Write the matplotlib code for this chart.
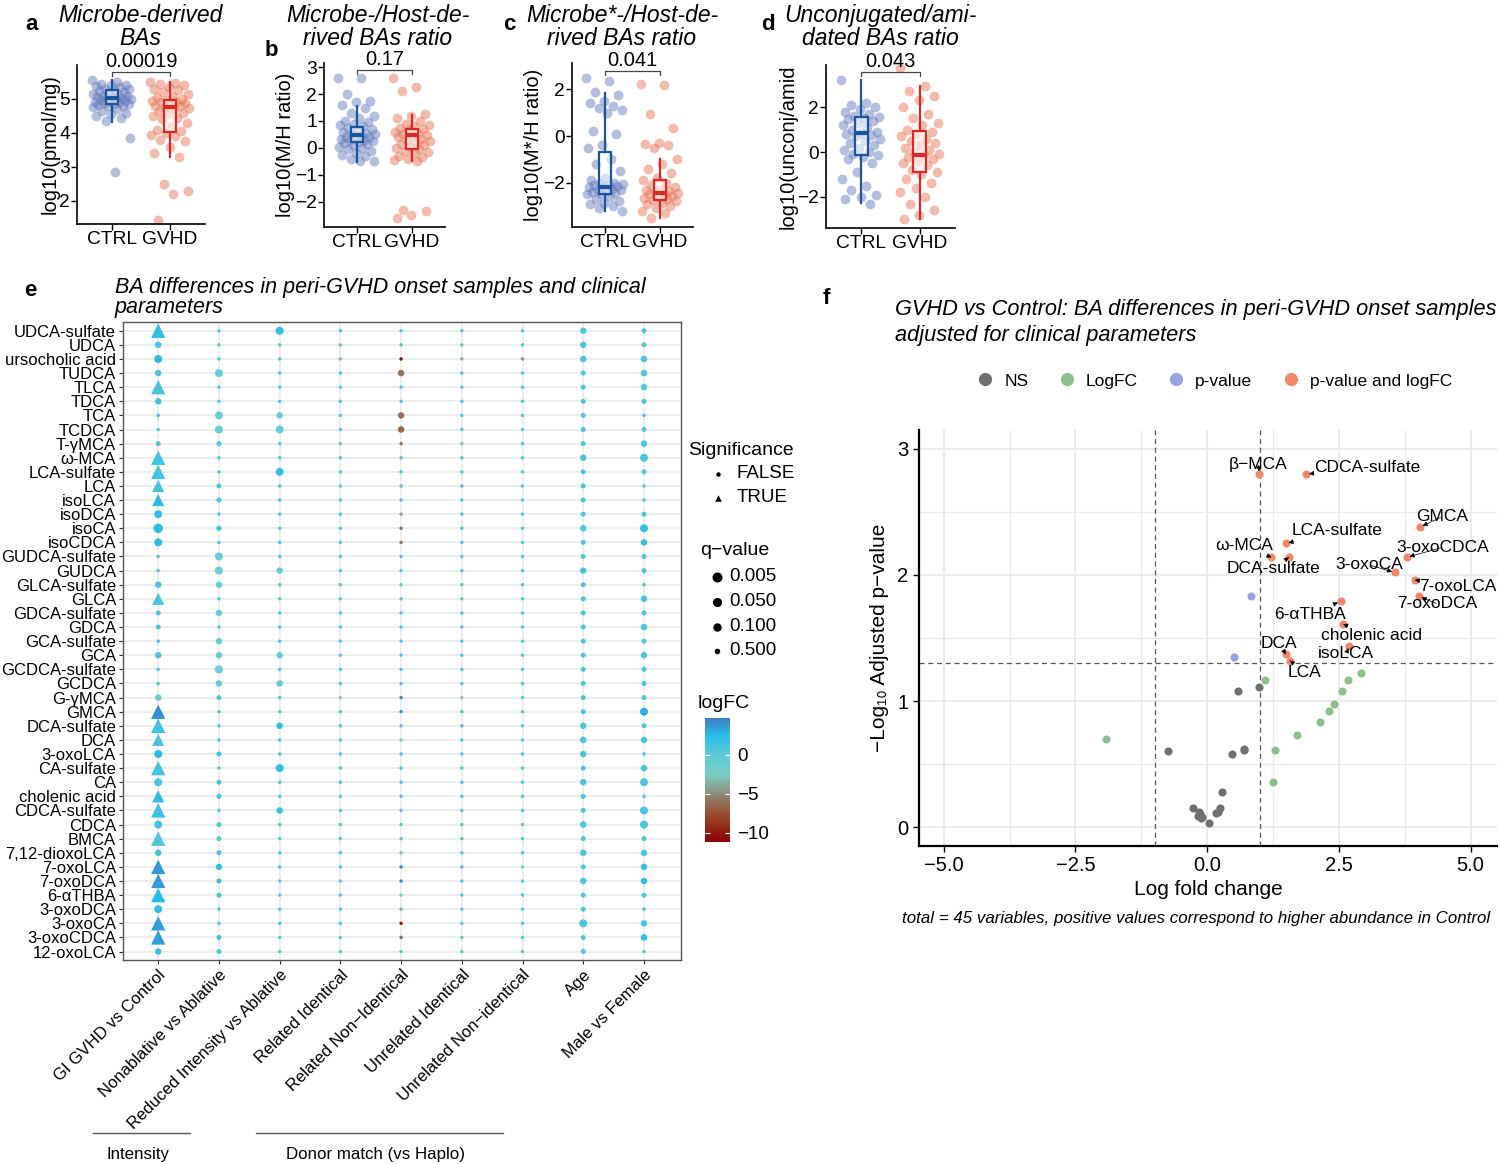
import numpy as np
import matplotlib
matplotlib.use('Agg')
import matplotlib.pyplot as plt
from matplotlib.colors import LinearSegmentedColormap, Normalize
from matplotlib.cm import ScalarMappable
from matplotlib.lines import Line2D

plt.rcParams['font.family'] = ['Liberation Sans', 'DejaVu Sans']

# ---------------- data: panels a-d ----------------
groups = ['CTRL', 'GVHD']

a_ctrl = [5.55, 5.5, 5.45, 5.42, 5.4, 5.38, 5.35, 5.3, 5.28, 5.25, 5.22, 5.2, 5.18, 5.15, 5.12, 5.1,
          5.08, 5.06, 5.05, 5.03, 5.02, 5.0, 4.99, 4.97, 4.95, 4.93, 4.92, 4.9, 4.88, 4.86, 4.85, 4.83,
          4.8, 4.78, 4.75, 4.7, 4.65, 4.6, 4.55, 4.5, 4.45, 4.35, 3.85, 2.85]
a_gvhd = [5.5, 5.48, 5.45, 5.4, 5.35, 5.3, 5.25, 5.2, 5.15, 5.1, 5.05, 5.0, 4.98, 4.95, 4.92, 4.9,
          4.88, 4.85, 4.8, 4.78, 4.75, 4.72, 4.7, 4.65, 4.6, 4.55, 4.5, 4.45, 4.4, 4.3, 4.2, 4.1,
          4.05, 4.0, 3.95, 3.9, 3.8, 3.75, 3.6, 3.4, 3.3, 2.5, 2.3, 2.2, 1.45]
b_ctrl = [2.6, 2.6, 2.0, 1.75, 1.7, 1.6, 1.5, 1.3, 1.2, 1.1, 1.0, 0.95, 0.9, 0.85, 0.8, 0.75, 0.7,
          0.65, 0.6, 0.55, 0.5, 0.5, 0.45, 0.42, 0.4, 0.38, 0.35, 0.3, 0.28, 0.25, 0.22, 0.2, 0.15,
          0.1, 0.05, 0.0, -0.05, -0.1, -0.2, -0.25, -0.3, -0.4, -0.5, -0.5]
b_gvhd = [2.6, 2.25, 2.1, 1.25, 1.2, 1.1, 1.0, 0.9, 0.85, 0.8, 0.75, 0.7, 0.65, 0.6, 0.55, 0.5,
          0.48, 0.45, 0.4, 0.35, 0.3, 0.25, 0.2, 0.15, 0.1, 0.05, 0.0, -0.05, -0.1, -0.15, -0.2,
          -0.3, -0.35, -0.4, -0.45, -0.5, -2.3, -2.35, -2.5, -2.6]
c_ctrl = [2.5, 2.35, 1.9, 1.75, 1.5, 1.4, 1.3, 1.2, 1.1, 1.0, 0.2, 0.1, -0.4, -0.5, -1.0, -1.2,
          -1.5, -1.8, -1.9, -2.0, -2.0, -2.05, -2.1, -2.1, -2.15, -2.2, -2.2, -2.25, -2.3, -2.3,
          -2.35, -2.4, -2.45, -2.5, -2.5, -2.6, -2.7, -2.8, -2.85, -2.9, -3.0, -3.1, -3.2]
c_gvhd = [2.25, 2.2, 0.95, 0.35, -0.3, -0.35, -0.4, -0.5, -1.0, -1.2, -1.4, -1.6, -1.8, -1.9,
          -2.0, -2.1, -2.2, -2.25, -2.3, -2.35, -2.4, -2.45, -2.5, -2.5, -2.55, -2.6, -2.65,
          -2.7, -2.75, -2.8, -2.85, -2.9, -3.0, -3.1, -3.2, -3.3, -3.5]
d_ctrl = [3.2, 2.2, 2.1, 2.0, 1.9, 1.8, 1.7, 1.6, 1.55, 1.5, 1.45, 1.4, 1.3, 1.2, 1.1, 1.0, 0.9,
          0.85, 0.8, 0.75, 0.7, 0.6, 0.5, 0.4, 0.3, 0.2, 0.1, 0.0, -0.1, -0.15, -0.2, -0.3, -0.5,
          -0.9, -1.2, -1.5, -1.7, -1.9, -2.0, -2.1, -2.3]
d_gvhd = [3.75, 2.95, 2.7, 2.5, 2.3, 2.0, 1.7, 1.5, 1.3, 1.2, 1.0, 0.9, 0.8, 0.7, 0.6, 0.5, 0.4,
          0.3, 0.2, 0.1, 0.0, -0.1, -0.15, -0.2, -0.3, -0.4, -0.5, -0.6, -0.8, -0.9, -1.0, -1.2,
          -1.4, -1.6, -1.8, -2.0, -2.3, -2.6, -2.8, -3.0]

# box stats: q1, median, q3, whisker low, whisker high
a_box = [(4.85, 5.02, 5.26, 4.33, 5.55), (4.03, 4.75, 4.97, 3.3, 5.5)]
b_box = [(0.22, 0.48, 0.78, -0.52, 1.55), (-0.04, 0.48, 0.7, -0.48, 1.22)]
c_box = [(-2.5, -2.2, -0.69, -3.2, 1.85), (-2.75, -2.45, -1.9, -3.5, -1.0)]
d_box = [(-0.14, 0.83, 1.55, -2.27, 3.2), (-0.9, -0.13, 0.93, -3.0, 2.93)]

p_values = ['0.00019', '0.17', '0.041', '0.043']

# ---------------- data: panel e ----------------
ba_names = ['UDCA-sulfate', 'UDCA', 'ursocholic acid', 'TUDCA', 'TLCA', 'TDCA', 'TCA', 'TCDCA',
            'T-γMCA', 'ω-MCA', 'LCA-sulfate', 'LCA', 'isoLCA', 'isoDCA', 'isoCA', 'isoCDCA',
            'GUDCA-sulfate', 'GUDCA', 'GLCA-sulfate', 'GLCA', 'GDCA-sulfate', 'GDCA',
            'GCA-sulfate', 'GCA', 'GCDCA-sulfate', 'GCDCA', 'G-γMCA', 'GMCA', 'DCA-sulfate',
            'DCA', '3-oxoLCA', 'CA-sulfate', 'CA', 'cholenic acid', 'CDCA-sulfate', 'CDCA',
            'BMCA', '7,12-dioxoLCA', '7-oxoLCA', '7-oxoDCA', '6-αTHBA', '3-oxoDCA', '3-oxoCA',
            '3-oxoCDCA', '12-oxoLCA']
params = ['GI GVHD vs Control', 'Nonablative vs Ablative', 'Reduced Intensity vs Ablative',
          'Related Identical', 'Related Non−Identical', 'Unrelated Identical',
          'Unrelated Non−identical', 'Age', 'Male vs Female']

# significance (GI GVHD column only has TRUE values)
gvhd_sig = [1, 0, 0, 0, 1, 0, 0, 0, 0, 1, 1, 1, 1, 0, 0, 0, 0, 0, 0, 1, 0, 0, 0, 0, 0, 0, 0, 1,
            1, 1, 0, 1, 0, 1, 1, 0, 1, 0, 1, 1, 1, 0, 1, 1, 0]
# q-value size class per cell (0 = q~0.5 ... 4 = q~0.005)
q_class = [
    [4, 2, 3, 2, 4, 2, 0, 0, 1, 4, 4, 3, 3, 3, 4, 3, 0, 0, 2, 3, 1, 1, 0, 2, 0, 0, 2, 4, 4, 3,
     3, 4, 3, 3, 4, 3, 4, 2, 4, 4, 4, 3, 4, 4, 2],
    [0, 0, 0, 3, 0, 0, 3, 3, 1, 0, 0, 1, 1, 0, 1, 0, 3, 3, 2, 0, 2, 0, 2, 2, 3, 2, 1, 0, 0, 0,
     1, 0, 1, 1, 0, 1, 1, 1, 2, 1, 1, 0, 0, 1, 1],
    [3, 0, 0, 0, 0, 0, 2, 3, 0, 0, 3, 0, 0, 0, 0, 0, 0, 2, 0, 0, 0, 0, 0, 2, 0, 2, 0, 0, 2, 0,
     0, 3, 0, 0, 2, 0, 0, 0, 0, 0, 0, 0, 0, 0, 0],
    [0] * 45,
    [0, 0, 0, 2, 0, 0, 2, 2, 0, 0, 0, 0, 0, 0, 0, 0, 0, 0, 0, 0, 0, 0, 0, 0, 0, 0, 0, 0, 0, 0,
     0, 0, 0, 0, 0, 0, 0, 0, 0, 0, 0, 0, 0, 0, 0],
    [0] * 45,
    [0] * 45,
    [2, 2, 2, 1, 1, 1, 1, 1, 1, 2, 1, 1, 1, 1, 2, 1, 1, 2, 1, 1, 1, 1, 1, 1, 1, 1, 1, 1, 2, 2,
     2, 1, 2, 1, 1, 2, 1, 2, 1, 2, 1, 1, 3, 1, 1],
    [1, 1, 2, 2, 2, 1, 0, 1, 2, 3, 1, 0, 0, 1, 3, 2, 1, 1, 0, 2, 1, 2, 1, 2, 1, 1, 1, 3, 1, 2,
     0, 2, 3, 0, 3, 3, 1, 2, 2, 2, 1, 0, 2, 2, 0],
]
log_fc = [
    [2.0, 1.2, 2.3, 1.2, 1.0, 1.2, 1.0, 1.0, 1.0, 1.0, 1.0, 1.2, 2.5, 2.3, 2.3, 2.3, 0.8, 0.8,
     0.8, 0.8, 1.0, 1.0, 1.0, 0.8, 0.8, 0.8, -0.8, 4.0, 1.5, 1.0, 2.5, 1.3, 1.0, 2.5, 1.5, 1.2,
     0.8, 1.2, 3.6, 3.6, 2.5, 2.2, 3.5, 3.5, 1.8],
    [0.5, 0.5, 0.5, -1.0, 0.5, 0.5, -1.0, -1.0, 0.5, 0.5, 0.5, 0.8, 0.8, 0.5, 2.0, 0.5, -1.0,
     -1.0, -1.0, 0.5, -1.0, 0.5, -1.0, -1.0, -1.0, -1.0, 0.5, 0.5, 0.5, 0.5, 1.5, 0.5, 0.8,
     1.5, 0.5, 0.5, 0.5, 0.8, 2.0, 2.0, 0.8, 0.5, 0.5, 1.5, 0.8],
    [2.0, 0.5, 0.5, 0.5, 0.5, 0.5, -0.8, -0.8, 0.5, 0.5, 2.0, 0.5, 0.5, 0.5, 0.5, 0.5, 0.5,
     -0.8, 0.5, 0.5, 0.5, 0.5, 0.5, -0.8, 0.5, -0.8, 0.5, 0.5, 2.0, 0.5, 0.5, 2.0, 0.5, 0.5,
     2.0, 0.5, 0.5, 0.5, 0.5, 0.5, 0.5, 0.5, 0.5, 0.5, 0.5],
    [0.5, 0.5, -3.0, 0.5, 0.5, 0.5, 0.5, 0.5, -3.0, 0.5, 0.5, 0.5, 0.5, 0.5, 0.5, 0.5, 0.5,
     0.5, 0.5, 0.5, 0.5, 0.5, 0.5, 0.5, 0.5, 0.5, -2.5, 0.5, 0.5, 0.5, 0.5, 0.5, 0.5, 0.5,
     0.5, 0.5, 0.5, 0.5, 0.5, 0.5, 0.5, 0.5, 0.5, 0.5, 0.5],
    [0.5, 0.5, -10.5, -6.0, 0.5, 0.5, -6.0, -6.5, -6.0, 0.5, 0.5, 0.5, 0.5, -4.0, -6.0, -6.0,
     0.5, 0.5, 0.5, 0.5, 0.5, 0.5, 0.5, 0.5, 0.5, 0.5, 4.0, 4.0, 0.5, -2.0, 0.5, 0.5, 0.5, 0.5,
     0.5, 0.5, 0.5, -3.0, 4.0, 4.0, -1.5, -3.5, -10.0, -6.5, 0.5],
    [0.5, 0.5, -3.5, 0.5, 0.5, 0.5, 0.5, 0.5, -3.0, 0.5, 0.5, 0.5, 0.5, 0.5, 0.5, 0.5, 0.5,
     0.5, 0.5, 0.5, 0.5, 0.5, 0.5, 0.5, 0.5, 0.5, -2.5, 0.5, 0.5, 0.5, 0.5, 0.5, 0.5, 0.5,
     0.5, 0.5, 0.5, 0.5, 0.5, 0.5, 0.5, 0.5, 0.5, 0.5, 0.5],
    [0.5, 0.5, -4.5, 0.5, 0.5, 0.5, 0.5, 0.5, 0.5, 0.5, 0.5, 0.5, 0.5, 0.5, 0.5, 0.5, 0.5,
     0.5, 0.5, 0.5, 0.5, 0.5, 0.5, 0.5, 0.5, 0.5, 0.5, 0.5, 0.5, 0.5, 0.5, 0.5, 0.5, 0.5,
     0.5, 0.5, 0.5, 0.5, -2.5, 0.5, 0.5, 0.5, 0.5, 0.5, 0.5],
    [0.8] * 45,
    [0.8, 0.8, 0.8, 0.8, 0.3, 0.8, 0.8, 0.8, 0.8, 1.0, 0.8, 0.8, 0.8, 0.8, 2.0, 2.0, 0.8, 0.8,
     0.8, 0.8, 0.8, 0.8, 0.8, 0.8, 0.8, 0.8, 0.8, 3.0, 0.8, 0.8, 0.8, 0.8, 0.8, 0.8, 0.8, 0.8,
     0.8, 0.8, 2.2, 2.2, 0.8, 0.8, 0.8, 2.0, 0.8],
]
q_legend = ['0.005', '0.050', '0.100', '0.500']

# ---------------- data: panel f ----------------
both_names = ['β−MCA', 'CDCA-sulfate', 'GMCA', 'LCA-sulfate', 'ω-MCA', 'DCA-sulfate',
              '3-oxoCDCA', '3-oxoCA', '7-oxoLCA', '7-oxoDCA', '6-αTHBA', 'cholenic acid',
              'isoLCA', 'DCA', 'LCA']
both_x = [0.99, 1.88, 4.04, 1.49, 1.22, 1.55, 3.79, 3.56, 3.94, 4.02, 2.53, 2.58, 2.70, 1.49, 1.57]
both_y = [2.80, 2.80, 2.38, 2.25, 2.14, 2.14, 2.14, 2.02, 1.96, 1.83, 1.79, 1.61, 1.44, 1.37, 1.32]
pval_x = [0.83, 0.50]
pval_y = [1.83, 1.35]
lfc_x = [-1.93, 1.10, 2.91, 2.68, 2.55, 2.41, 2.32, 2.15, 1.70, 1.28, 1.24]
lfc_y = [0.70, 1.17, 1.22, 1.17, 1.08, 0.98, 0.92, 0.83, 0.73, 0.61, 0.36]
ns_x = [0.58, 0.99, -0.74, 0.47, 0.69, 0.70, 0.28, -0.27, -0.16, 0.25, 0.16, -0.17, -0.12, 0.04,
        -0.14, -0.10, 0.20]
ns_y = [1.08, 1.11, 0.60, 0.58, 0.61, 0.62, 0.28, 0.15, 0.12, 0.15, 0.11, 0.09, 0.07, 0.03,
        0.10, 0.08, 0.12]
# label centre positions (layout of the repel labels)
label_xy = [(0.97, 2.88), (3.04, 2.85), (4.45, 2.46), (2.47, 2.35), (0.71, 2.23), (1.26, 2.05),
            (4.47, 2.22), (3.07, 2.08), (4.76, 1.91), (4.37, 1.77), (1.96, 1.69), (3.12, 1.52),
            (2.64, 1.38), (1.37, 1.46), (1.84, 1.23)]

# ---------------- figure ----------------
W, H = 1500, 1164
fig = plt.figure(figsize=(15, 11.64), dpi=100)


def px_axes(l, t, r, b):
    return fig.add_axes([l / W, 1 - b / H, (r - l) / W, (b - t) / H])


def ftext(x, y, s, **kw):
    fig.text(x / W, 1 - y / H, s, **kw)


pt_col = ['#5a72b8', '#e46a48']
box_col = ['#1a56a0', '#d42a2a']

panels = [
    dict(rect=(77, 65, 205, 224), data=[a_ctrl, a_gvhd], box=a_box, yt=[2, 3, 4, 5],
         ylim=(1.32, 6.0), ylab='log10(pmol/mg)', br=5.8, letter='a', lxy=(32, 25),
         title='Microbe-derived\nBAs', tx=140),
    dict(rect=(324, 63, 445, 227), data=[b_ctrl, b_gvhd], box=b_box, yt=[-2, -1, 0, 1, 2, 3],
         ylim=(-2.93, 3.15), ylab='log10(M/H ratio)', br=2.89, letter='b', lxy=(271, 50),
         title='Microbe-/Host-de-\nrived BAs ratio', tx=378),
    dict(rect=(572, 63, 693, 227), data=[c_ctrl, c_gvhd], box=c_box, yt=[-2, 0, 2],
         ylim=(-3.9, 3.13), ylab='log10(M*/H ratio)', br=2.8, letter='c', lxy=(509, 24),
         title='Microbe*-/Host-de-\nrived BAs ratio', tx=622),
    dict(rect=(826, 65, 955, 228), data=[d_ctrl, d_gvhd], box=d_box, yt=[-2, 0, 2],
         ylim=(-3.38, 3.87), ylab='log10(unconj/amid', br=3.56, letter='d', lxy=(768, 24),
         title='Unconjugated/ami-\ndated BAs ratio', tx=880),
]

for k, p in enumerate(panels):
    ax = px_axes(*p['rect'])
    for i in range(2):
        vals = np.array(p['data'][i])
        n = len(vals)
        jit = ((np.arange(n) * 0.618034) % 1 - 0.5) * 0.68
        ax.scatter(i + 1 + jit, vals, s=50, color=pt_col[i], alpha=0.45, lw=0, zorder=2)
        q1, med, q3, lo, hi = p['box'][i]
        ax.bxp([dict(med=med, q1=q1, q3=q3, whislo=lo, whishi=hi, fliers=[])],
               positions=[i + 1], widths=0.22, showfliers=False, showcaps=False,
               patch_artist=True,
               boxprops=dict(facecolor=(1, 1, 1, 0.55), edgecolor=box_col[i], lw=1.6),
               whiskerprops=dict(color=box_col[i], lw=1.6),
               medianprops=dict(color=box_col[i], lw=3), zorder=3)
    y0 = p['br']
    dy = (p['ylim'][1] - p['ylim'][0]) * 0.025
    ax.plot([1, 1, 2, 2], [y0 - dy, y0, y0, y0 - dy], color='#444444', lw=0.9, clip_on=False)
    ax.text(1.5, y0 + dy * 0.2, p_values[k], ha='center', va='bottom', fontsize=14.5,
            clip_on=False)
    ax.set_xlim(0.4, 2.6)
    ax.set_ylim(*p['ylim'])
    ax.set_yticks(p['yt'])
    ax.set_xticks([1, 2])
    ax.set_xticklabels(groups)
    ax.tick_params(labelsize=13.8, length=4, width=1, pad=1)
    ax.set_ylabel(p['ylab'], fontsize=14.5, labelpad=0)
    for s in ['top', 'right']:
        ax.spines[s].set_visible(False)
    for s in ['left', 'bottom']:
        ax.spines[s].set_linewidth(1.2)
    ftext(p['tx'], 27, p['title'], ha='center', va='center', fontsize=16.5, style='italic',
          linespacing=1.05)
    ftext(*p['lxy'], p['letter'], ha='center', va='center', fontsize=16, weight='bold')

# ---------------- panel e ----------------
cmap = LinearSegmentedColormap.from_list('fc', [
    (0.0, '#8b0000'), ((-7.5 + 11.2) / 15.9, '#9a5030'), ((-5 + 11.2) / 15.9, '#8e8c7c'),
    ((-2.5 + 11.2) / 15.9, '#7acfc4'), ((0 + 11.2) / 15.9, '#5ccbd8'),
    ((2.5 + 11.2) / 15.9, '#28bde8'), (1.0, '#3c7cc8')])
norm = Normalize(-11.2, 4.7)
size_px = [3.5, 5.0, 6.5, 8.0, 9.5]

ax = px_axes(123, 322, 681, 960)
rows = np.arange(1, len(ba_names) + 1)
for j in range(len(params)):
    qc = np.array(q_class[j])
    sz = (np.array(size_px)[qc] * 0.72) ** 2
    sig = np.array(gvhd_sig) if j == 0 else np.zeros(len(ba_names), int)
    cols = cmap(norm(np.array(log_fc[j])))
    m = sig == 0
    ax.scatter(np.full(m.sum(), j + 1), rows[m], s=sz[m], c=cols[m], lw=0, zorder=3)
    m = sig == 1
    if m.any():
        ax.scatter(np.full(m.sum(), j + 1), rows[m], s=sz[m] * 2.3, c=cols[m], marker='^',
                   lw=0, zorder=3)
ax.set_xlim(0.42, 9.61)
ax.set_ylim(45.6, 0.38)
ax.set_yticks(rows)
ax.set_yticklabels(ba_names, fontsize=12.0)
ax.set_xticks(np.arange(1, 10))
ax.set_xticklabels(params, rotation=45, ha='right', va='top', rotation_mode='anchor',
                   fontsize=12.0)
ax.tick_params(length=3, width=0.8, color='#333333', pad=2)
ax.set_axisbelow(True)
ax.grid(color='#ebebeb', lw=1.2)
for s in ax.spines.values():
    s.set_color('#555555')
    s.set_linewidth(1.0)

ftext(30, 291, 'e', ha='center', va='center', fontsize=16, weight='bold')
ftext(115, 287, 'BA differences in peri-GVHD onset samples and clinical', ha='left',
      va='center', fontsize=15.5, style='italic')
ftext(115, 308, 'parameters', ha='left', va='center', fontsize=15.5, style='italic')

# group annotations below x labels
fig.add_artist(Line2D([93 / W, 190 / W], [1 - 1133 / H] * 2, color='#555555', lw=1))
fig.add_artist(Line2D([256 / W, 503 / W], [1 - 1133 / H] * 2, color='#555555', lw=1))
ftext(138, 1155, 'Intensity', ha='center', va='center', fontsize=12.2)
ftext(375, 1155, 'Donor match (vs Haplo)', ha='center', va='center', fontsize=12.2)

# legends of panel e
lax = px_axes(680, 430, 810, 700)
lax.set_xlim(680, 810)
lax.set_ylim(700, 430)
lax.axis('off')
lax.text(688, 451, 'Significance', fontsize=14, va='center')
lax.scatter([718], [474], s=(4.5 * 0.72) ** 2, color='black', lw=0)
lax.scatter([718], [498], s=(6.5 * 0.72) ** 2, color='black', marker='^', lw=0)
lax.text(737, 474, 'FALSE', fontsize=13.5, va='center')
lax.text(737, 498, 'TRUE', fontsize=13.5, va='center')
lax.text(700, 551, 'q−value', fontsize=14, va='center')
for q, yy, sp in zip(q_legend, [577, 602, 627, 651], [10, 9.2, 8.4, 5.5]):
    lax.scatter([717], [yy], s=(sp * 0.72) ** 2, color='black', lw=0)
    lax.text(729, yy, q, fontsize=13.5, va='center')
ftext(698, 703, 'logFC', ha='left', va='center', fontsize=14)
cax = px_axes(705, 718, 730, 842)
cb = fig.colorbar(ScalarMappable(norm=norm, cmap=cmap), cax=cax)
cb.outline.set_visible(False)
cb.set_ticks([0, -5, -10])
cax.tick_params(length=0, labelsize=13.5, pad=5)
cax.hlines([0, -5, -10], 0, 0.2, colors='white', lw=0.8)
cax.hlines([0, -5, -10], 0.8, 1.0, colors='white', lw=0.8)

# ---------------- panel f ----------------
axf = px_axes(919, 430, 1497, 846)
axf.set_xlim(-5.47, 5.5)
axf.set_ylim(-0.15, 3.15)
axf.set_xticks([-5, -2.5, 0, 2.5, 5])
axf.set_xticklabels(['−5.0', '−2.5', '0.0', '2.5', '5.0'])
axf.set_yticks([0, 1, 2, 3])
axf.set_xticks([-3.75, -1.25, 1.25, 3.75], minor=True)
axf.set_yticks([0.5, 1.5, 2.5], minor=True)
axf.grid(which='major', color='#ebebeb', lw=1.5)
axf.grid(which='minor', color='#ebebeb', lw=0.8)
axf.tick_params(which='minor', length=0)
axf.tick_params(which='major', labelsize=14.5, length=4, width=1)
axf.set_axisbelow(True)
for s in ['top', 'right']:
    axf.spines[s].set_visible(False)
for s in ['left', 'bottom']:
    axf.spines[s].set_linewidth(1.6)
axf.axvline(-1, color='#555555', ls=(0, (4, 3)), lw=0.9)
axf.axvline(1, color='#555555', ls=(0, (4, 3)), lw=0.9)
axf.axhline(-np.log10(0.05), color='#555555', ls=(0, (4, 3)), lw=0.9)

c_ns, c_lfc, c_p, c_both = '#6f6f6f', '#8dbf8d', '#98a2de', '#f4866a'
axf.scatter(ns_x, ns_y, s=34, color=c_ns, lw=0, zorder=3)
axf.scatter(lfc_x, lfc_y, s=34, color=c_lfc, lw=0, zorder=3)
axf.scatter(pval_x, pval_y, s=34, color=c_p, lw=0, zorder=3)
axf.scatter(both_x, both_y, s=34, color=c_both, lw=0, zorder=3)
for name, x, y, (tx, ty) in zip(both_names, both_x, both_y, label_xy):
    axf.annotate(name, xy=(x, y), xytext=(tx, ty), ha='center', va='center', fontsize=12.5,
                 zorder=4,
                 arrowprops=dict(arrowstyle='-|>', color='black', lw=0.5, mutation_scale=7,
                                 shrinkA=1, shrinkB=2))
axf.set_xlabel('Log fold change', fontsize=15, labelpad=3)
axf.set_ylabel('−Log₁₀ Adjusted p−value', fontsize=15, labelpad=6)

ftext(826, 298, 'f', ha='center', va='center', fontsize=16, weight='bold')
ftext(895, 310, 'GVHD vs Control: BA differences in peri-GVHD onset samples', ha='left',
      va='center', fontsize=15.7, style='italic')
ftext(895, 336, 'adjusted for clinical parameters', ha='left', va='center', fontsize=15.7,
      style='italic')
handles = [Line2D([], [], marker='o', ls='', color=c, ms=9.5, mew=0)
           for c in [c_ns, c_lfc, c_p, c_both]]
fig.legend(handles, ['NS', 'LogFC', 'p-value', 'p-value and logFC'], loc='center',
           bbox_to_anchor=(1210 / W, 1 - 381 / H), ncol=4, frameon=False, fontsize=12.5,
           handletextpad=0.1, columnspacing=1.2)
ftext(1196, 919, 'total = 45 variables, positive values correspond to higher abundance in Control',
      ha='center', va='center', fontsize=12.2, style='italic')

fig.savefig('out.png', dpi=100, facecolor='white')
